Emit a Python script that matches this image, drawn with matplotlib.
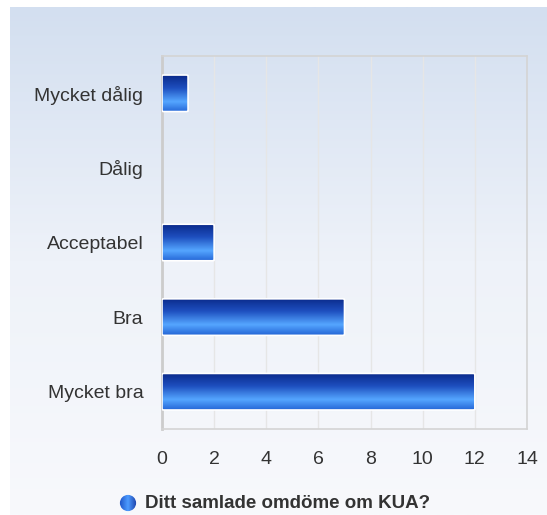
import matplotlib.pyplot as plt
import numpy as np
from matplotlib.colors import LinearSegmentedColormap
from matplotlib.patches import FancyBboxPatch

plt.rcParams['font.family'] = ['Liberation Sans', 'DejaVu Sans']

categories = ['Mycket dålig', 'Dålig', 'Acceptabel', 'Bra', 'Mycket bra']
values = [1, 0, 2, 7, 12]
xticks = [0, 2, 4, 6, 8, 10, 12, 14]
series_name = 'Ditt samlade omdöme om KUA?'

W, H = 547, 515
fig = plt.figure(figsize=(W / 100, H / 100), dpi=100)

# background panel with vertical gradient
bg = fig.add_axes([10 / W, 0, 537 / W, 508 / H], zorder=0)
bg_cmap = LinearSegmentedColormap.from_list('bg', ['#f8f9fc', '#eef2f9', '#d3dff0'])
bg.imshow(np.linspace(0, 1, 256).reshape(-1, 1), aspect='auto', cmap=bg_cmap,
          origin='lower', extent=[0, 1, 0, 1])
bg.axis('off')

ax = fig.add_axes([162 / W, 1 - 429 / H, 365 / W, 373 / H], zorder=1)
ax.patch.set_alpha(0)

bar_cmap = LinearSegmentedColormap.from_list(
    'bar', [(0, '#0a2a8a'), (0.35, '#1e4fbf'), (0.72, '#55a6ff'), (1, '#2466d6')])
grad = np.linspace(0, 1, 128).reshape(-1, 1)
bar_h = 0.49

for i, v in enumerate(values):
    if v <= 0:
        continue
    y0, y1 = i - bar_h / 2, i + bar_h / 2
    im = ax.imshow(grad, aspect='auto', cmap=bar_cmap, extent=[0, v, y1, y0],
                   origin='upper', zorder=3, interpolation='bilinear')
    box = FancyBboxPatch((0, y0), v, bar_h, boxstyle='round,pad=0,rounding_size=0.08',
                         mutation_aspect=1 / 8, transform=ax.transData,
                         facecolor='none', edgecolor='white', lw=1.2, zorder=4)
    ax.add_patch(box)
    im.set_clip_path(box)

ax.set_xlim(0, 14)
ax.set_ylim(len(categories) - 0.5, -0.5)
ax.set_xticks(xticks)
ax.set_yticks(range(len(categories)))
ax.set_yticklabels(categories)
ax.tick_params(length=0, labelsize=14, colors='#333333')
ax.tick_params(axis='x', pad=16)
ax.tick_params(axis='y', pad=13.5)
ax.grid(axis='x', color='#e6e6e6', lw=1, zorder=0)
ax.set_axisbelow(True)
for s in ['top', 'right', 'bottom']:
    ax.spines[s].set_color('#d4d4d4')
    ax.spines[s].set_linewidth(1.2)
ax.spines['left'].set_color('#cccccc')
ax.spines['left'].set_linewidth(2)

# legend
fig.text(145 / W, 1 - 503 / H, series_name, fontsize=13.5, fontweight='bold',
         color='#333333', va='center', ha='left')
leg = fig.add_axes([119 / W, 1 - 512 / H, 18 / W, 18 / H])
leg.set_xlim(-1, 1)
leg.set_ylim(-1, 1)
leg.axis('off')
circ = plt.Circle((0, 0), 0.9, transform=leg.transData)
leg.add_patch(plt.Circle((0, 0), 0.9, facecolor='none', edgecolor='none'))
lim = leg.imshow(np.linspace(0, 1, 64).reshape(1, -1), aspect='auto',
                 cmap=LinearSegmentedColormap.from_list('lg', ['#1a4fc4', '#4d9bff', '#1c3fa8']),
                 extent=[-1, 1, -1, 1])
lim.set_clip_path(circ)

fig.savefig('out.png', dpi=100)
